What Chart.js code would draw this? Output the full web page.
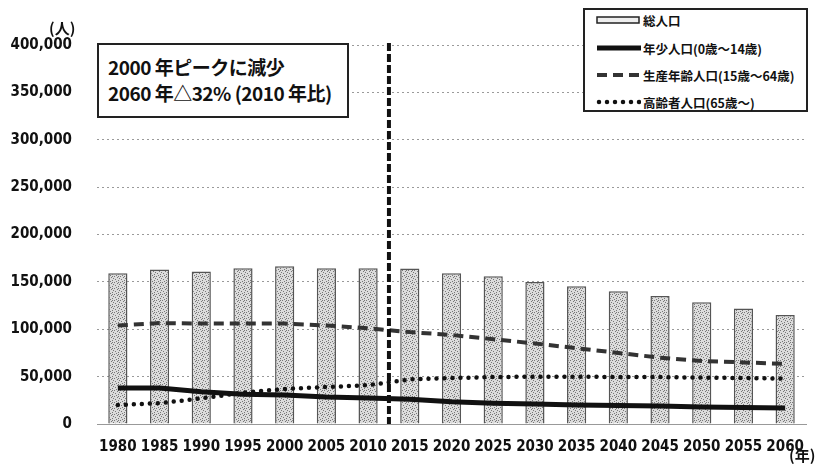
<!DOCTYPE html>
<html lang="ja">
<head>
<meta charset="utf-8">
<script src="https://cdn.jsdelivr.net/npm/chart.js@4.4.1/dist/chart.umd.min.js"></script>
<style>
  body { margin: 0; background: #fff; font-family: "Noto Sans CJK JP", "Liberation Sans", sans-serif; }
  #wrap { position: relative; width: 822px; height: 465px; }
  #note {
    position: absolute; left: 97px; top: 43px; width: 239px; height: 62px;
    border: 2px solid #222; background: #fff; color: #111; font-weight: bold;
    font-size: 19px; line-height: 26px; padding: 9px 0 0 9px; letter-spacing: -0.5px;
  }
  #legend {
    position: absolute; left: 583px; top: 8px; width: 221px; height: 100px;
    border: 2px solid #222; background: #fff; font-size: 12.5px; font-weight: bold; color: #111;
  }
  .item { position: absolute; left: 11px; height: 16px; display: flex; align-items: center; white-space: nowrap; }
  .item svg { margin-right: 2px; }
  .unit { position: absolute; font-size: 15px; font-weight: bold; color: #111; }
</style>
</head>
<body>
<div id="wrap">
  <canvas id="popChart" width="822" height="465"></canvas>
  <div class="unit" style="left:49px; top:17px;">(人)</div>
  <div class="unit" style="left:789px; top:444px;">(年)</div>
  <div id="note">2000 年ピークに減少<br>2060 年△32% (2010 年比)</div>
  <div id="legend">
    <div class="item" style="top:2px;"><svg width="45" height="10"><rect x="1" y="2" width="42" height="6" fill="#eee" stroke="#222" stroke-width="1.5"/></svg>総人口</div>
    <div class="item" style="top:30px;"><svg width="45" height="10"><line x1="1" y1="5" x2="45" y2="5" stroke="#111" stroke-width="5"/></svg>年少人口(0歳～14歳)</div>
    <div class="item" style="top:57px;"><svg width="45" height="10"><line x1="1" y1="5" x2="45" y2="5" stroke="#333" stroke-width="4" stroke-dasharray="10,6"/></svg>生産年齢人口(15歳～64歳)</div>
    <div class="item" style="top:84px;"><svg width="45" height="10"><line x1="3" y1="5" x2="45" y2="5" stroke="#111" stroke-width="4.5" stroke-linecap="round" stroke-dasharray="0,8"/></svg>高齢者人口(65歳～)</div>
  </div>
</div>
<script>
// data
const years = ['1980', '1985', '1990', '1995', '2000', '2005', '2010', '2015', '2020',
               '2025', '2030', '2035', '2040', '2045', '2050', '2055', '2060'];
const totalPop = [159000, 163000, 161000, 164500, 166500, 164500, 164500, 164000, 159000,
                  156000, 150000, 145500, 140000, 135000, 128500, 122000, 115000];
const youthPop = [38000, 38000, 34000, 31500, 30500, 28500, 27500, 26000, 23500,
                  22000, 21000, 20000, 19500, 19000, 18000, 17500, 17000];
const workingPop = [104000, 106500, 106000, 106000, 106000, 104000, 101000, 97000, 94000,
                    89500, 85000, 80000, 75000, 70000, 66500, 65000, 63500];
const elderlyPop = [20000, 22000, 27000, 33000, 37000, 39000, 41000, 47000, 48500,
                    49500, 50000, 50000, 49500, 49500, 49000, 48500, 48000];
const yTicks = [0, 50000, 100000, 150000, 200000, 250000, 300000, 350000, 400000];

const labelFont = '"DejaVu Sans Condensed", "Liberation Sans", sans-serif';

// speckled grey fill for the bars
function makePattern() {
  const c = document.createElement('canvas');
  c.width = 6; c.height = 6;
  const g = c.getContext('2d');
  g.fillStyle = '#dcdcdc';
  g.fillRect(0, 0, 6, 6);
  g.fillStyle = '#777';
  [[0, 0], [3, 1], [1, 3], [4, 4], [5, 2], [2, 5], [4, 0]].forEach(p => g.fillRect(p[0], p[1], 1, 1));
  return g.createPattern(c, 'repeat');
}

// thick dashed separator between 2010 and 2015
const dividerLine = {
  id: 'dividerLine',
  afterDatasetsDraw(chart) {
    const x = (chart.scales.x.getPixelForValue(6) + chart.scales.x.getPixelForValue(7)) / 2;
    const ctx = chart.ctx;
    ctx.save();
    ctx.strokeStyle = '#111';
    ctx.lineWidth = 4;
    ctx.setLineDash([8, 3]);
    ctx.beginPath();
    ctx.moveTo(x, chart.chartArea.top - 2);
    ctx.lineTo(x, chart.chartArea.bottom);
    ctx.stroke();
    ctx.restore();
  }
};

const ctx = document.getElementById('popChart').getContext('2d');
new Chart(ctx, {
  data: {
    labels: years,
    datasets: [
      {
        type: 'line', label: '年少人口(0歳～14歳)', data: youthPop, order: 1,
        borderColor: '#111', borderWidth: 5, pointRadius: 0, tension: 0
      },
      {
        type: 'line', label: '生産年齢人口(15歳～64歳)', data: workingPop, order: 2,
        borderColor: '#333', borderWidth: 4, borderDash: [10, 6], pointRadius: 0, tension: 0
      },
      {
        type: 'line', label: '高齢者人口(65歳～)', data: elderlyPop, order: 3,
        borderColor: '#111', borderWidth: 4.5, borderDash: [0, 8], borderCapStyle: 'round',
        pointRadius: 0, tension: 0
      },
      {
        type: 'bar', label: '総人口', data: totalPop, order: 4,
        backgroundColor: makePattern(), borderColor: '#555', borderWidth: 1.5,
        barPercentage: 0.46, categoryPercentage: 1
      }
    ]
  },
  options: {
    responsive: false,
    animation: false,
    layout: { padding: { top: 45, right: 16, left: 0, bottom: 0 } },
    plugins: { legend: { display: false }, tooltip: { enabled: false } },
    scales: {
      x: {
        afterFit(scale) { scale.height = 41; },
        grid: { display: false, drawTicks: false },
        border: { display: true, color: '#999', width: 1, dash: [2, 2] },
        ticks: {
          color: '#111', padding: 14, maxRotation: 0, autoSkip: false,
          font: { family: labelFont, size: 15, weight: 'bold' }
        }
      },
      y: {
        min: 0, max: 400000,
        afterFit(scale) { scale.width = 97; },
        afterBuildTicks(scale) { scale.ticks = yTicks.map(v => ({ value: v })); },
        grid: { color: '#9a9a9a', lineWidth: 1, drawTicks: false },
        border: { display: false, dash: [2, 3] },
        ticks: {
          color: '#111', padding: 25,
          font: { family: labelFont, size: 15, weight: 'bold' },
          callback: v => v.toLocaleString('en-US')
        }
      }
    }
  },
  plugins: [dividerLine]
});
</script>
</body>
</html>
